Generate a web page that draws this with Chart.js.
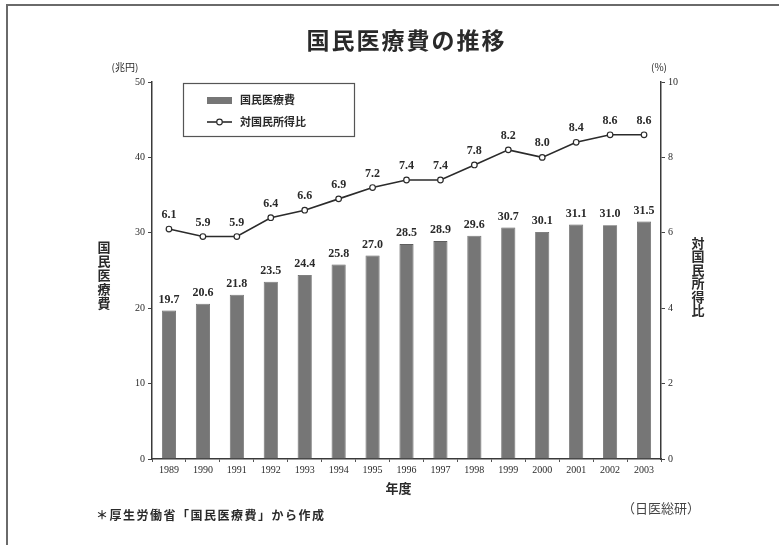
<!DOCTYPE html>
<html lang="ja">
<head>
<meta charset="utf-8">
<title>国民医療費の推移</title>
<script src="https://cdn.jsdelivr.net/npm/chart.js@4/dist/chart.umd.min.js"></script>
<style>
  html, body { margin: 0; padding: 0; background: #fff; }
  canvas { display: block; }
</style>
</head>
<body>
<canvas id="myChart" width="779" height="545"></canvas>
<script>
//////////////////////////////////// DATA

// 年度
var years = ['1989', '1990', '1991', '1992', '1993', '1994', '1995', '1996',
             '1997', '1998', '1999', '2000', '2001', '2002', '2003'];

// 国民医療費 (兆円)
var medicalCost = [19.7, 20.6, 21.8, 23.5, 24.4, 25.8, 27.0, 28.5,
                   28.9, 29.6, 30.7, 30.1, 31.1, 31.0, 31.5];

// 対国民所得比 (%)
var incomeRatio = [6.1, 5.9, 5.9, 6.4, 6.6, 6.9, 7.2, 7.4,
                   7.4, 7.8, 8.2, 8.0, 8.4, 8.6, 8.6];

// 軸の目盛り
var costTicks = [0, 10, 20, 30, 40, 50];
var ratioTicks = [0, 2, 4, 6, 8, 10];

var costLabel = '国民医療費';
var ratioLabel = '対国民所得比';

//////////////////////////////////// STYLE

var barColor = '#767676';
var lineColor = '#2b2b2b';
var inkColor = '#2a2a2a';
var serif = '"Liberation Serif", "DejaVu Serif", serif';
var jp = '"Noto Sans CJK JP", "Noto Sans", sans-serif';

// vertical (stacked) text helper
function drawVertical(ctx, text, x, y, step) {
    for (var i = 0; i < text.length; i++) {
        ctx.fillText(text[i], x, y + i * step);
    }
}

// page decoration: frame, title, units, axis titles, legend, notes
const decorations = {
    id: 'decorations',
    beforeDraw(chart) {
        const ctx = chart.ctx;
        ctx.save();
        ctx.fillStyle = '#fff';
        ctx.fillRect(0, 0, chart.width, chart.height);
        ctx.restore();
    },
    afterDraw(chart) {
        const ctx = chart.ctx;
        const area = chart.chartArea;
        ctx.save();

        // frame
        ctx.strokeStyle = '#6a6a6a';
        ctx.lineWidth = 2;
        ctx.beginPath();
        ctx.moveTo(7, chart.height);
        ctx.lineTo(7, 5);
        ctx.lineTo(chart.width, 5);
        ctx.stroke();

        ctx.fillStyle = inkColor;
        ctx.textAlign = 'center';
        ctx.textBaseline = 'middle';

        // title
        ctx.font = 'bold 23px ' + jp;
        ctx.letterSpacing = '2px';
        ctx.fillText('国民医療費の推移', (area.left + area.right) / 2, 40);
        ctx.letterSpacing = '0px';

        // units
        ctx.font = '10px ' + jp;
        ctx.fillText('(兆円)', 125, 67);
        ctx.fillText('(%)', 659, 67);

        // axis titles
        ctx.font = 'bold 13px ' + jp;
        drawVertical(ctx, costLabel, 104, 247, 14);
        drawVertical(ctx, ratioLabel, 698, 243, 13.5);
        ctx.fillText('年度', (area.left + area.right) / 2 - 8, 488);

        // legend
        ctx.strokeStyle = '#555';
        ctx.lineWidth = 1.2;
        ctx.strokeRect(183.5, 83.5, 171, 53);
        ctx.fillStyle = barColor;
        ctx.fillRect(207, 97, 25, 7);
        ctx.strokeStyle = lineColor;
        ctx.lineWidth = 1.6;
        ctx.beginPath();
        ctx.moveTo(207, 122);
        ctx.lineTo(232, 122);
        ctx.stroke();
        ctx.beginPath();
        ctx.arc(219.5, 122, 2.8, 0, Math.PI * 2);
        ctx.fillStyle = '#fff';
        ctx.fill();
        ctx.lineWidth = 1.2;
        ctx.stroke();
        ctx.fillStyle = inkColor;
        ctx.textAlign = 'left';
        ctx.font = 'bold 11px ' + jp;
        ctx.fillText(costLabel, 240, 100);
        ctx.fillText(ratioLabel, 240, 122);

        // notes
        ctx.font = 'bold 12px ' + jp;
        ctx.letterSpacing = '1.5px';
        ctx.fillText('＊厚生労働省「国民医療費」から作成', 96, 515);
        ctx.letterSpacing = '0px';
        ctx.font = '13px ' + jp;
        ctx.fillStyle = '#444';
        ctx.fillText('（日医総研）', 622, 508);

        ctx.restore();
    }
};

// value labels above bars and line points
const valueLabels = {
    id: 'valueLabels',
    afterDatasetsDraw(chart) {
        const ctx = chart.ctx;
        ctx.save();
        ctx.fillStyle = inkColor;
        ctx.font = 'bold 12px ' + serif;
        ctx.textAlign = 'center';
        ctx.textBaseline = 'middle';
        chart.getDatasetMeta(0).data.forEach(function (bar, i) {
            ctx.fillText(medicalCost[i].toFixed(1), bar.x, bar.y - 11);
        });
        chart.getDatasetMeta(1).data.forEach(function (pt, i) {
            ctx.fillText(incomeRatio[i].toFixed(1), pt.x, pt.y - 14);
        });
        ctx.restore();
    }
};

const data = {
    labels: years,
    datasets: [
        {
            type: 'bar',
            label: costLabel,
            data: medicalCost,
            yAxisID: 'y',
            backgroundColor: barColor,
            borderColor: '#5e5e5e',
            borderWidth: 0.8,
            barPercentage: 0.8,
            categoryPercentage: 0.52,
            order: 2,
        },
        {
            type: 'line',
            label: ratioLabel,
            data: incomeRatio,
            yAxisID: 'y1',
            borderColor: lineColor,
            borderWidth: 1.6,
            tension: 0,
            pointRadius: 2.8,
            pointBackgroundColor: '#fff',
            pointBorderColor: lineColor,
            pointBorderWidth: 1.2,
            order: 1,
        },
    ],
};

const config = {
    data,
    options: {
        responsive: false,
        animation: false,
        layout: {
            padding: { left: 112, right: 78, top: 82, bottom: 66 }
        },
        scales: {
            x: {
                offset: true,
                grid: { display: true, drawOnChartArea: false, offset: true, tickLength: 3, color: '#555' },
                border: { color: '#3a3a3a', width: 1.5 },
                ticks: {
                    color: inkColor,
                    padding: 2,
                    maxRotation: 0,
                    autoSkip: false,
                    font: { family: serif, size: 10 },
                },
                afterFit(scale) { scale.height = 20; },
            },
            y: {
                position: 'left',
                min: costTicks[0],
                max: costTicks[costTicks.length - 1],
                afterBuildTicks(scale) { scale.ticks = costTicks.map(v => ({ value: v })); },
                grid: { drawOnChartArea: false, tickLength: 4, color: '#444' },
                border: { color: '#3a3a3a', width: 1.5 },
                ticks: { color: inkColor, padding: 3, font: { family: serif, size: 10 } },
                afterFit(scale) { scale.width = 40; },
            },
            y1: {
                position: 'right',
                min: ratioTicks[0],
                max: ratioTicks[ratioTicks.length - 1],
                afterBuildTicks(scale) { scale.ticks = ratioTicks.map(v => ({ value: v })); },
                grid: { drawOnChartArea: false, tickLength: 4, color: '#444' },
                border: { color: '#3a3a3a', width: 1.5 },
                ticks: { color: inkColor, padding: 3, font: { family: serif, size: 10 } },
                afterFit(scale) { scale.width = 40; },
            },
        },
        plugins: {
            legend: { display: false },
            title: { display: false },
            tooltip: { enabled: false },
        },
    },
    plugins: [decorations, valueLabels],
};

var myChart = new Chart(document.getElementById('myChart'), config);
</script>
</body>
</html>
